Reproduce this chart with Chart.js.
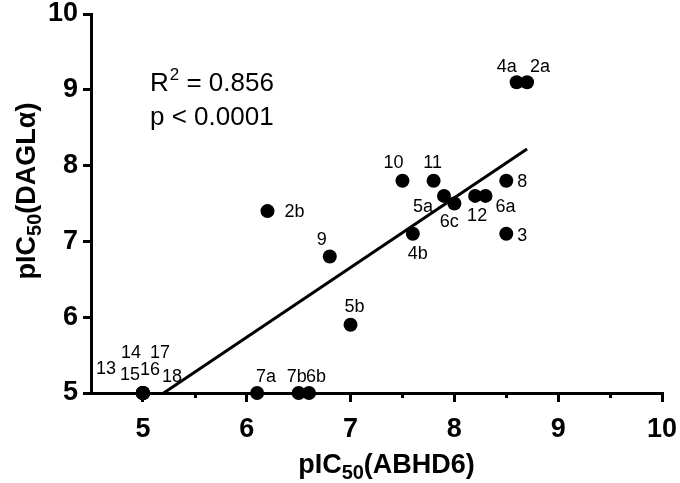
<!DOCTYPE html>
<html lang="en">
<head>
    <meta charset="utf-8">
    <title>pIC50 ABHD6 vs DAGLa</title>
    <script src="https://cdn.jsdelivr.net/npm/chart.js"></script>
    <style>
        body { margin: 0; background: #fff; }
        #chartCanvas { display: block; }
    </style>
</head>
<body>
    <canvas id="chartCanvas" width="680" height="483"></canvas>
<script>
    // compound names and the two pIC50 values
    const compounds = ['2a', '4a', '8', '10', '11', '5a', '6c', '12', '6a', '3', '4b', '2b', '9', '5b', '7a', '7b', '6b', '13', '14', '15', '16', '17', '18'];
    const abhd6 = [8.7, 8.6, 8.5, 7.5, 7.8, 7.9, 8.0, 8.2, 8.3, 8.5, 7.6, 6.2, 6.8, 7.0, 6.1, 6.5, 6.6, 5, 5, 5, 5, 5, 5];
    const dagla = [9.1, 9.1, 7.8, 7.8, 7.8, 7.6, 7.5, 7.6, 7.6, 7.1, 7.1, 7.4, 6.8, 5.9, 5, 5, 5, 5, 5, 5, 5, 5, 5];

    // regression line end points
    const fitX = [5.2, 8.7];
    const fitY = [5.0, 8.22];

    const xTicks = [5, 6, 7, 8, 9, 10];
    const xMinorTicks = [5.5, 6.5, 7.5, 8.5, 9.5];
    const yTicks = [5, 6, 7, 8, 9, 10];

    const r2Text = '0.856';
    const pText = 'p < 0.0001';

    // where each label sits relative to its dot (px)
    const labelOffsets = {
        '2a': [13, -15], '4a': [-10, -15], '8': [16, 1], '10': [-9, -18], '11': [-1, -18],
        '5a': [-21, 11], '6c': [-5, 19], '12': [2, 20], '6a': [20, 11], '3': [16, 2],
        '4b': [5, 20], '2b': [27, 1], '9': [-8, -17], '5b': [4, -18],
        '7a': [9, -16], '7b': [-2, -16], '6b': [7, -16],
        '13': [-37, -24], '14': [-12, -40], '15': [-13, -18], '16': [7, -23], '17': [17, -40], '18': [29, -16]
    };

    const FONT = "'Liberation Sans', Arial, sans-serif";

    // extra drawing: minor ticks, dot labels, axis titles, stats text
    const extras = {
        id: 'extras',
        afterDraw(chart) {
            const c = chart.ctx;
            const xs = chart.scales.x, ys = chart.scales.y;
            const area = chart.chartArea;
            c.save();
            c.fillStyle = '#000';
            c.strokeStyle = '#000';

            // minor ticks on x
            c.lineWidth = 3;
            xMinorTicks.forEach(v => {
                const px = Math.round(xs.getPixelForValue(v)) + 0.5;
                c.beginPath();
                c.moveTo(px, area.bottom);
                c.lineTo(px, area.bottom + 5);
                c.stroke();
            });

            // dot labels
            c.font = '18px ' + FONT;
            c.textAlign = 'center';
            c.textBaseline = 'middle';
            compounds.forEach((name, i) => {
                const off = labelOffsets[name] || [0, -18];
                const px = xs.getPixelForValue(abhd6[i]);
                const py = ys.getPixelForValue(dagla[i]);
                c.fillText(name, px + off[0], py + off[1]);
            });

            // axis titles with subscript
            c.textBaseline = 'alphabetic';
            c.textAlign = 'left';
            function drawTitle(pre, post, cx, baseY) {
                c.font = 'bold 27px ' + FONT;
                const w1 = c.measureText(pre).width;
                const w3 = c.measureText(post).width;
                c.font = 'bold 20px ' + FONT;
                const w2 = c.measureText('50').width;
                let x = cx - (w1 + w2 + w3) / 2;
                c.font = 'bold 27px ' + FONT;
                c.fillText(pre, x, baseY);
                x += w1;
                c.font = 'bold 20px ' + FONT;
                c.fillText('50', x, baseY + 6);
                x += w2;
                c.font = 'bold 27px ' + FONT;
                c.fillText(post, x, baseY);
            }
            drawTitle('pIC', '(ABHD6)', (area.left + area.right) / 2 + 10, 473);
            c.save();
            c.translate(35, 191);
            c.rotate(-Math.PI / 2);
            drawTitle('pIC', '(DAGL\u03b1)', 0, 0);
            c.restore();

            // R squared and p value
            const tx = area.left + 59;
            c.font = '26px ' + FONT;
            c.fillText('R', tx, 91);
            const wr = c.measureText('R').width;
            c.font = '17px ' + FONT;
            c.fillText('2', tx + wr + 1, 80);
            const w2 = c.measureText('2').width;
            c.font = '26px ' + FONT;
            c.fillText(' = ' + r2Text, tx + wr + 1 + w2, 91);
            c.fillText(pText, tx, 125);
            c.restore();
        }
    };

    const ctx = document.getElementById('chartCanvas').getContext('2d');
    const chart = new Chart(ctx, {
        type: 'scatter',
        data: {
            datasets: [{
                type: 'line',
                data: fitX.map((x, i) => ({ x: x, y: fitY[i] })),
                borderColor: '#000',
                borderWidth: 3,
                pointRadius: 0,
                fill: false,
                order: 0
            }, {
                data: abhd6.map((x, i) => ({ x: x, y: dagla[i] })),
                backgroundColor: '#000',
                borderWidth: 0,
                pointRadius: 7,
                pointHoverRadius: 7,
                clip: false,
                order: 1
            }]
        },
        options: {
            responsive: false,
            animation: false,
            events: [],
            layout: { padding: { top: 14, right: 18, left: 0, bottom: 0 } },
            plugins: { legend: { display: false }, tooltip: { enabled: false } },
            scales: {
                x: {
                    type: 'linear',
                    min: 4.5,
                    max: 10,
                    afterBuildTicks: s => { s.ticks = xTicks.map(v => ({ value: v })); },
                    afterFit: s => { s.height = 90; s.paddingLeft = 0; s.paddingRight = 0; },
                    border: { color: '#000', width: 3 },
                    grid: { drawOnChartArea: false, color: '#000', lineWidth: 3, tickLength: 9 },
                    ticks: { color: '#000', font: { family: FONT, size: 27, weight: 'bold' }, padding: 11, maxRotation: 0, autoSkip: false }
                },
                y: {
                    type: 'linear',
                    min: 5,
                    max: 10,
                    afterBuildTicks: s => { s.ticks = yTicks.map(v => ({ value: v })); },
                    afterFit: s => { s.width = 91; s.paddingTop = 0; s.paddingBottom = 0; },
                    border: { color: '#000', width: 3 },
                    grid: { drawOnChartArea: false, color: '#000', lineWidth: 3, tickLength: 8 },
                    ticks: { color: '#000', font: { family: FONT, size: 27, weight: 'bold' }, padding: 5, autoSkip: false }
                }
            }
        },
        plugins: [extras]
    });
</script>
</body>
</html>
